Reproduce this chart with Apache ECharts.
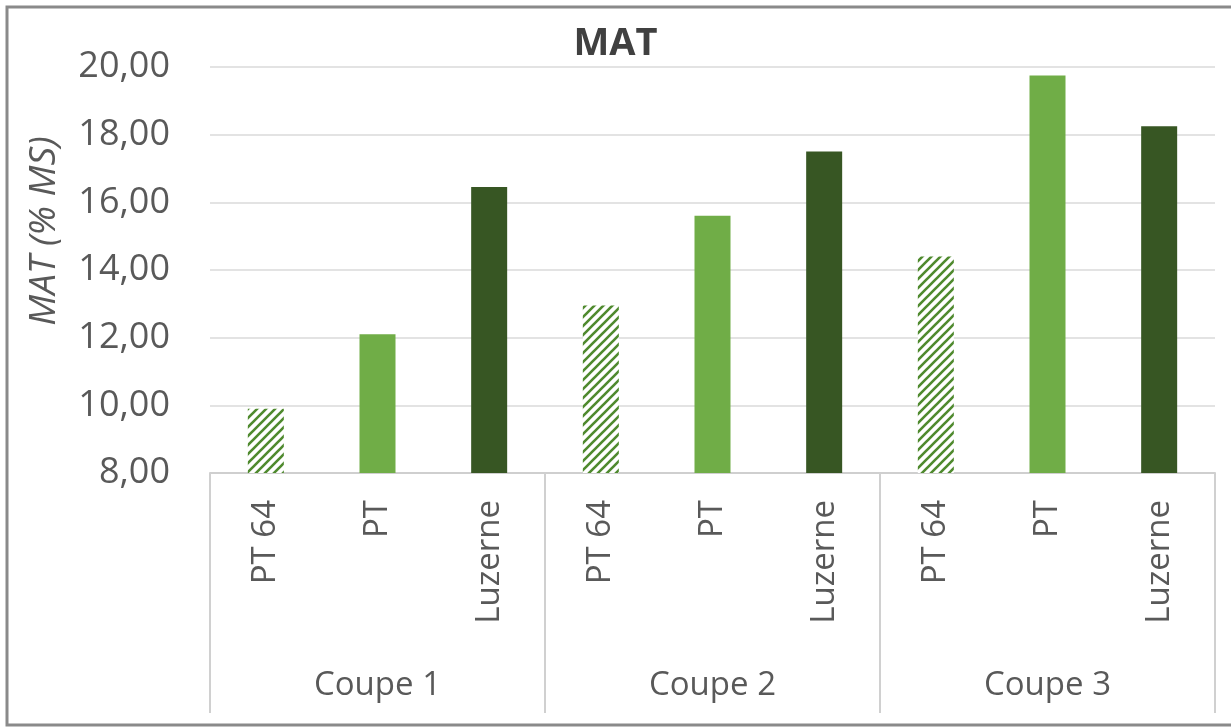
<!DOCTYPE html>
<html>
<head>
<meta charset="utf-8">
<script src="https://cdn.jsdelivr.net/npm/echarts@6/dist/echarts.min.js"></script>
<style>
html,body{margin:0;padding:0;background:#fff;}
#chart{width:1231px;height:728px;}
</style>
</head>
<body>
<div id="chart"></div>
<script>
const groups = ['Coupe 1', 'Coupe 2', 'Coupe 3'];
const varieties = ['PT 64', 'PT', 'Luzerne'];
const pt64 = [9.9, 12.95, 14.4];
const pt = [12.1, 15.6, 19.75];
const luzerne = [16.45, 17.5, 18.25];
const yTicks = [8, 10, 12, 14, 16, 18, 20];

const FONT = '"Open Sans", "Liberation Sans", sans-serif';
const TXT = '#595959';

// hatch pattern for PT 64
function makeHatch() {
  const s = 9;
  const c = document.createElement('canvas');
  c.width = s; c.height = s;
  const ctx = c.getContext('2d');
  ctx.fillStyle = '#ffffff';
  ctx.fillRect(0, 0, s, s);
  ctx.strokeStyle = '#4f8a2e';
  ctx.lineWidth = 2.6;
  ctx.beginPath();
  ctx.moveTo(-2, s + 2); ctx.lineTo(s + 2, -2);
  ctx.moveTo(-s / 2 - 2, s / 2 + 2); ctx.lineTo(s / 2 + 2, -s / 2 - 2);
  ctx.moveTo(s / 2 - 2, s * 1.5 + 2); ctx.lineTo(s * 1.5 + 2, s / 2 - 2);
  ctx.stroke();
  return c;
}
const hatch = makeHatch();

const seriesByVariety = [pt64, pt, luzerne];
const styles = [
  { color: { image: hatch, repeat: 'repeat' } },
  { color: '#70ad47' },
  { color: '#375623' }
];

const cats = [];
const barData = [];
groups.forEach((g, gi) => {
  varieties.forEach((v, vi) => {
    cats.push(v);
    barData.push({ value: seriesByVariety[vi][gi], itemStyle: styles[vi] });
  });
});

const chart = echarts.init(document.getElementById('chart'), null, { renderer: 'canvas' });
chart.setOption({
  animation: false,
  backgroundColor: '#ffffff',
  title: {
    text: 'MAT',
    left: 'center',
    top: 20,
    textStyle: { fontFamily: FONT, fontSize: 38, fontWeight: 'bold', color: '#404040' }
  },
  graphic: [
    {
      type: 'rect',
      shape: { x: 7, y: 7, width: 1240, height: 718 },
      style: { fill: 'none', stroke: '#8a8a8a', lineWidth: 3 },
      silent: true
    },
    {
      type: 'text',
      x: 44, y: 231,
      rotation: Math.PI / 2,
      style: {
        text: 'MAT (% MS)',
        fontFamily: FONT,
        fontSize: 37,
        fontStyle: 'italic',
        fill: TXT,
        align: 'center',
        verticalAlign: 'middle'
      }
    }
  ],
  grid: { left: 210, right: 16, top: 67, bottom: 255, containLabel: false },
  xAxis: [
    {
      type: 'category',
      data: cats,
      position: 'bottom',
      axisLine: { show: true, lineStyle: { color: '#cfcfcf', width: 2 } },
      axisTick: { show: false },
      axisLabel: {
        rotate: 90,
        margin: 27,
        fontFamily: FONT,
        fontSize: 33,
        color: TXT
      }
    },
    {
      type: 'category',
      data: groups,
      position: 'bottom',
      axisLine: { show: false },
      axisTick: { show: true, length: 240, lineStyle: { color: '#d0d0d0', width: 2 } },
      axisLabel: {
        margin: 196,
        fontFamily: FONT,
        fontSize: 33,
        color: TXT
      },
      splitLine: { show: false }
    }
  ],
  yAxis: {
    type: 'value',
    min: 8,
    max: 20,
    interval: 2,
    axisLine: { show: false },
    axisTick: { show: false },
    splitLine: { lineStyle: { color: '#e3e3e3', width: 2 } },
    axisLabel: {
      margin: 40,
      fontFamily: FONT,
      fontSize: 36,
      color: TXT,
      formatter: v => yTicks.includes(v) ? v.toFixed(2).replace('.', ',') : ''
    }
  },
  series: [
    {
      type: 'bar',
      xAxisIndex: 0,
      barWidth: 36,
      data: barData
    }
  ]
});
</script>
</body>
</html>
